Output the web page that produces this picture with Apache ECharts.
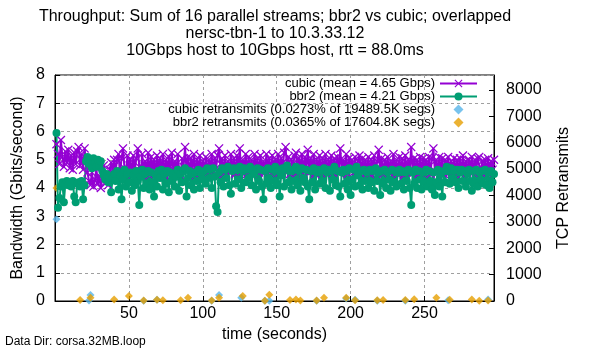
<!DOCTYPE html>
<html>
<head>
<meta charset="utf-8">
<script src="https://cdn.jsdelivr.net/npm/echarts@6/dist/echarts.min.js"></script>
<style>
  html, body { margin: 0; padding: 0; background: #fff; }
  #chart { width: 600px; height: 350px; }
</style>
</head>
<body>
<div id="chart"></div>
<script>
// throughput samples, one per second starting at t = 1
var startTime = 1
var cubicGbps = [
  5.55, 5.20, 4.85, 5.70, 5.10, 4.75, 5.30, 4.90, 5.35, 4.70,
  5.15, 4.65, 5.25, 4.85, 5.30, 5.45, 4.80, 5.20, 4.65, 5.40,
  4.95, 4.55, 4.25, 4.10, 4.55, 4.05, 4.30, 4.70, 4.15, 4.40,
  4.00, 4.35, 4.80, 4.20, 4.45, 4.10, 4.65, 4.90, 4.60, 5.00,
  4.60, 5.00, 5.20, 4.45, 5.05, 5.40, 4.70, 4.50, 5.15, 4.65,
  5.00, 4.45, 5.15, 4.60, 5.05, 5.40, 4.75, 4.50, 5.20, 4.60,
  4.95, 4.55, 5.25, 4.45, 5.10, 4.65, 5.00, 4.50, 5.15, 4.60,
  5.05, 4.55, 5.20, 4.45, 5.00, 4.60, 5.10, 4.50, 5.25, 4.65,
  4.95, 4.55, 5.20, 4.65, 4.45, 5.05, 4.75, 5.45, 4.60, 5.10,
  4.50, 5.05, 4.65, 5.20, 4.45, 5.00, 4.60, 5.15, 4.55, 4.95,
  4.60, 5.10, 4.50, 5.00, 4.65, 5.20, 4.45, 5.05, 4.70, 5.15,
  5.40, 4.60, 5.05, 4.50, 5.15, 4.65, 4.95, 4.55, 5.20, 4.60,
  5.05, 4.50, 5.15, 4.70, 5.40, 4.55, 5.00, 4.65, 5.20, 4.50,
  5.10, 4.60, 5.00, 4.50, 5.20, 4.65, 5.05, 4.55, 5.15, 4.60,
  4.95, 4.55, 5.20, 4.65, 5.05, 4.50, 5.15, 4.60, 5.00, 4.70,
  5.20, 4.55, 5.05, 4.65, 5.25, 5.45, 4.60, 5.10, 4.50, 5.00,
  4.65, 5.15, 5.25, 4.55, 5.05, 4.60, 5.20, 4.50, 5.10, 4.70,
  5.35, 4.55, 5.05, 4.60, 5.20, 4.50, 5.00, 4.65, 5.15, 4.55,
  5.05, 4.60, 5.20, 4.50, 5.00, 4.70, 5.15, 4.55, 5.05, 4.65,
  5.10, 4.55, 5.40, 4.65, 5.00, 4.60, 5.20, 4.50, 5.05, 4.65,
  5.00, 4.55, 5.10, 4.60, 4.95, 5.15, 4.50, 5.05, 4.60, 5.00,
  4.55, 5.10, 4.50, 5.00, 4.65, 5.15, 4.55, 4.95, 5.35, 4.60,
  5.05, 4.50, 5.00, 4.60, 5.10, 4.55, 4.95, 4.65, 5.20, 4.55,
  5.00, 4.50, 5.10, 4.60, 5.05, 4.45, 5.15, 4.55, 5.00, 4.60,
  5.45, 4.55, 5.05, 4.60, 5.00, 4.50, 5.10, 4.55, 5.05, 4.65,
  5.00, 4.55, 5.10, 4.50, 5.05, 5.40, 4.60, 5.00, 4.55, 5.10,
  4.60, 5.05, 4.50, 5.00, 4.65, 5.10, 4.55, 4.95, 4.60, 5.05,
  4.55, 5.00, 4.60, 5.05, 4.50, 5.15, 4.65, 4.95, 4.55, 5.00,
  4.60, 5.10, 4.55, 5.00, 4.65, 5.05, 5.10, 4.55, 4.95, 4.60,
  5.00, 4.55, 5.05, 4.60, 4.95, 4.65, 5.00
]
var bbr2Gbps = [
  5.95, 3.30, 3.65, 4.05, 4.20, 3.50, 4.15, 4.25, 4.10, 4.20,
  4.05, 4.25, 3.70, 3.50, 4.15, 4.20, 4.05, 4.25, 3.60, 4.10,
  4.95, 5.10, 4.85, 5.00, 4.70, 5.05, 4.90, 4.75, 5.00, 4.80,
  4.95, 4.60, 4.45, 4.30, 4.50, 4.20, 4.40, 3.85, 4.35, 4.50,
  4.25, 4.60, 3.95, 4.45, 3.60, 4.30, 4.65, 4.05, 4.50, 4.20,
  4.55, 3.90, 4.45, 4.10, 4.60, 4.25, 3.40, 4.40, 4.65, 4.00,
  4.50, 4.15, 4.60, 3.95, 4.55, 4.20, 3.70, 4.45, 4.05, 4.60,
  4.35, 4.65, 3.95, 4.50, 4.15, 4.60, 3.85, 4.55, 4.25, 4.50,
  4.05, 4.40, 4.65, 3.90, 4.50, 4.20, 4.60, 4.70, 3.70, 4.35,
  4.60, 4.10, 4.50, 3.95, 4.55, 4.25, 4.65, 4.00, 4.50, 4.30,
  4.60, 4.15, 4.70, 4.35, 4.65, 4.00, 4.70, 4.40, 3.35, 3.15,
  4.55, 4.20, 4.70, 4.05, 4.65, 4.35, 4.75, 4.10, 3.80, 4.60,
  4.70, 4.15, 4.65, 4.30, 4.75, 4.00, 4.60, 4.70, 4.20, 4.65,
  4.35, 4.75, 4.10, 4.60, 4.50, 3.95, 4.70, 4.25, 4.65, 4.05,
  3.60, 4.60, 4.15, 4.70, 4.35, 4.00, 4.65, 4.25, 4.75, 4.10,
  4.60, 3.70, 4.45, 4.70, 4.05, 4.65, 4.80, 4.20, 4.60, 3.95,
  4.65, 4.25, 4.75, 4.10, 4.60, 3.90, 4.70, 4.35, 4.20, 4.65,
  4.05, 3.60, 4.60, 4.20, 4.70, 3.95, 4.55, 4.65, 4.15, 4.60,
  4.25, 4.70, 4.00, 4.55, 4.65, 3.90, 4.60, 4.30, 4.75, 4.10,
  4.60, 4.05, 3.70, 4.55, 4.65, 4.15, 4.60, 3.95, 4.70, 3.75,
  4.30, 4.65, 4.05, 4.75, 4.45, 4.10, 4.60, 3.95, 4.65, 4.25,
  4.55, 4.00, 4.65, 4.20, 4.60, 3.90, 4.70, 4.25, 4.55, 3.75,
  4.60, 4.15, 4.65, 4.00, 4.55, 4.30, 3.90, 4.65, 4.20, 4.60,
  4.05, 4.55, 4.65, 4.15, 4.60, 3.95, 4.55, 4.25, 4.65, 4.00,
  3.40, 4.55, 4.15, 4.65, 4.00, 4.60, 4.30, 3.95, 4.55, 4.20,
  4.65, 4.05, 4.60, 4.25, 3.95, 4.55, 3.75, 4.20, 4.65, 4.05,
  4.50, 3.70, 4.60, 4.20, 4.75, 4.60, 4.15, 4.70, 4.35, 4.60,
  4.20, 4.65, 4.00, 4.55, 4.65, 4.25, 4.60, 4.05, 4.50, 4.65,
  4.25, 3.90, 4.60, 4.15, 4.65, 4.05, 4.55, 4.30, 4.60, 4.15,
  4.65, 4.10, 4.55, 4.00, 4.60, 4.20, 4.50
]

// retransmits (only non-zero samples)
var cubicRetransTime = [1, 23, 24, 60, 69, 106, 111, 126, 142, 145, 177, 197, 203, 218, 237, 266, 293]
var cubicRetransCount = [3100, 20, 230, 10, 50, 10, 230, 125, 5, 5, 10, 90, 50, 10, 5, 30, 60]
var bbr2RetransTime = [1, 17, 24, 40, 50, 60, 69, 73, 85, 90, 106, 111, 127, 142, 145, 159, 163, 166,
  177, 182, 197, 203, 218, 222, 237, 243, 258, 267, 282, 287, 293]
var bbr2RetransCount = [4280, 40, 125, 60, 190, 20, 50, 30, 25, 125, 20, 125, 190, 10, 240, 40, 60, 15,
  20, 125, 125, 30, 30, 40, 40, 70, 125, 50, 60, 5, 15]

var seriesNames = [
  'cubic (mean = 4.65 Gbps)',
  'bbr2 (mean = 4.21 Gbps)',
  'cubic retransmits (0.0273% of 19489.5K segs)',
  'bbr2 retransmits (0.0365% of 17604.8K segs)'
]
var titleText = 'Throughput: Sum of 16 parallel streams; bbr2 vs cubic; overlapped\n' +
  'nersc-tbn-1 to 10.3.33.12\n' +
  '10Gbps host to 10Gbps host, rtt = 88.0ms'

var font = '"Liberation Sans", Arial, sans-serif'
var xMark = 'path://M0,1 L1,0 L5,4 L9,0 L10,1 L6,5 L10,9 L9,10 L5,6 L1,10 L0,9 L4,5 Z'
var diamond = 'path://M5,0 L10,5 L5,10 L0,5 Z'

function toPairs(times, values) {
  return values.map(function(v, i) { return [times[i], v] })
}
function timed(values) {
  return values.map(function(v, i) { return [startTime + i, v] })
}

var gridLine = { show: true, lineStyle: { color: '#a0a0a0', type: [3, 3], width: 1 } }
var axisText = { fontSize: 16, color: '#000', fontFamily: font }

var chart = echarts.init(document.getElementById('chart'), null, { renderer: 'canvas' })
chart.setOption({
  animation: false,
  backgroundColor: '#fff',
  title: [
    {
      text: titleText,
      left: 270,
      top: 3,
      textAlign: 'center',
      textStyle: { fontSize: 16, fontWeight: 'normal', lineHeight: 17, color: '#000', fontFamily: font }
    },
    {
      text: 'Data Dir: corsa.32MB.loop',
      left: 0,
      top: 331,
      textStyle: { fontSize: 12, fontWeight: 'normal', color: '#000', fontFamily: font }
    }
  ],
  grid: {
    left: 55,
    right: 106,
    top: 75,
    bottom: 49,
    show: true,
    borderColor: '#000',
    borderWidth: 1,
    backgroundColor: 'transparent'
  },
  legend: {
    orient: 'vertical',
    right: 122,
    top: 77,
    padding: 0,
    align: 'right',
    itemWidth: 37,
    itemHeight: 10,
    itemGap: 0,
    symbolKeepAspect: true,
    textStyle: { fontSize: 13, lineHeight: 12, color: '#000', fontFamily: font },
    data: seriesNames
  },
  xAxis: {
    type: 'value',
    min: 0,
    max: 297,
    interval: 50,
    name: 'time (seconds)',
    nameLocation: 'middle',
    nameGap: 24,
    nameTextStyle: axisText,
    axisLine: { lineStyle: { color: '#000', width: 1 } },
    axisTick: { inside: true, length: 5, lineStyle: { color: '#000' } },
    axisLabel: { fontSize: 16, color: '#000', fontFamily: font, margin: 5, showMinLabel: false, showMaxLabel: false },
    splitLine: gridLine
  },
  yAxis: [
    {
      type: 'value',
      min: 0,
      max: 8,
      interval: 1,
      name: 'Bandwidth (Gbits/second)',
      nameLocation: 'middle',
      nameGap: 25,
      nameTextStyle: axisText,
      axisLine: { show: true, lineStyle: { color: '#000', width: 1 } },
      axisTick: { show: true, inside: true, length: 5, lineStyle: { color: '#000' } },
      axisLabel: { fontSize: 16, color: '#000', fontFamily: font, margin: 10 },
      splitLine: gridLine
    },
    {
      type: 'value',
      position: 'right',
      min: 0,
      max: 8560,
      interval: 1000,
      name: 'TCP Retransmits',
      nameLocation: 'middle',
      nameGap: 62,
      nameTextStyle: axisText,
      axisLine: { show: true, lineStyle: { color: '#000', width: 1 } },
      axisTick: { show: true, inside: true, length: 5, lineStyle: { color: '#000' } },
      axisLabel: {
        fontSize: 16, color: '#000', fontFamily: font, margin: 12, showMaxLabel: false,
        formatter: function(v) { return String(v) }
      },
      splitLine: { show: false }
    }
  ],
  series: [
    {
      name: seriesNames[0],
      type: 'line',
      data: timed(cubicGbps),
      symbol: xMark,
      symbolSize: 9,
      lineStyle: { color: '#9400d3', width: 2 },
      itemStyle: { color: '#9400d3' }
    },
    {
      name: seriesNames[1],
      type: 'line',
      data: timed(bbr2Gbps),
      symbol: 'circle',
      symbolSize: 8,
      lineStyle: { color: '#009e73', width: 2 },
      itemStyle: { color: '#009e73' }
    },
    {
      name: seriesNames[2],
      type: 'scatter',
      yAxisIndex: 1,
      data: toPairs(cubicRetransTime, cubicRetransCount),
      symbol: diamond,
      symbolSize: 8,
      symbolKeepAspect: true,
      itemStyle: { color: '#56b4e9' }
    },
    {
      name: seriesNames[3],
      type: 'scatter',
      yAxisIndex: 1,
      data: toPairs(bbr2RetransTime, bbr2RetransCount),
      symbol: diamond,
      symbolSize: 8,
      symbolKeepAspect: true,
      itemStyle: { color: '#e69f00' }
    }
  ]
})
</script>
</body>
</html>
